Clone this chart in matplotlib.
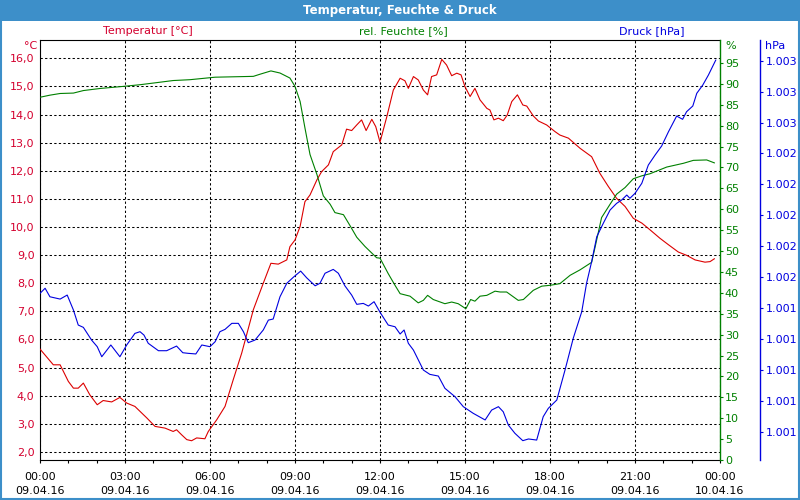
import matplotlib
matplotlib.use('Agg')
import matplotlib.pyplot as plt
import matplotlib.dates as mdates
from matplotlib.patches import Rectangle
from matplotlib.ticker import FixedLocator, FuncFormatter
import numpy as np
import pandas as pd

# --- data ---
start = pd.Timestamp('2016-04-09 00:00')

temp_h = [0.00, 0.47, 0.71, 1.00, 1.18, 1.35, 1.53, 1.76, 2.02, 2.23, 2.53, 2.82, 3.06, 3.35,
          3.77, 4.06, 4.41, 4.70, 4.82, 5.00, 5.18, 5.35, 5.53, 5.82, 5.94, 6.24, 6.53, 6.82,
          7.12, 7.53, 7.88, 8.15, 8.41, 8.71, 8.82, 9.00, 9.18, 9.35, 9.53, 9.77, 9.94, 10.18,
          10.35, 10.65, 10.82, 11.00, 11.18, 11.35, 11.51, 11.71, 11.85, 12.00, 12.24, 12.47,
          12.71, 12.88, 13.00, 13.18, 13.35, 13.53, 13.68, 13.82, 14.00, 14.18, 14.35, 14.53,
          14.71, 14.86, 15.00, 15.18, 15.35, 15.53, 15.77, 15.88, 16.02, 16.18, 16.35, 16.49,
          16.65, 16.85, 17.04, 17.18, 17.41, 17.59, 17.88, 18.18, 18.35, 18.65, 19.06, 19.47,
          19.76, 20.06, 20.35, 20.65, 20.94, 21.24, 21.53, 21.88, 22.18, 22.53, 22.83, 23.12,
          23.47, 23.65, 23.80]
temp_c = [5.66, 5.10, 5.10, 4.51, 4.27, 4.27, 4.45, 4.03, 3.68, 3.83, 3.78, 3.94, 3.74, 3.62,
          3.21, 2.91, 2.85, 2.73, 2.79, 2.61, 2.44, 2.40, 2.50, 2.47, 2.73, 3.15, 3.62, 4.57,
          5.52, 7.06, 8.00, 8.71, 8.68, 8.83, 9.30, 9.54, 10.02, 10.90, 11.14, 11.67, 11.97, 12.21,
          12.68, 12.92, 13.48, 13.43, 13.63, 13.81, 13.43, 13.83, 13.57, 13.02, 13.92, 14.87,
          15.29, 15.20, 14.93, 15.35, 15.23, 14.87, 14.70, 15.35, 15.41, 15.96, 15.76, 15.38,
          15.47, 15.41, 14.99, 14.64, 14.93, 14.52, 14.22, 14.16, 13.81, 13.87, 13.78, 13.98,
          14.46, 14.70, 14.34, 14.30, 13.95, 13.77, 13.63, 13.39, 13.27, 13.16, 12.80, 12.50,
          11.91, 11.44, 11.02, 10.73, 10.31, 10.14, 9.90, 9.60, 9.37, 9.11, 8.99, 8.83,
          8.75, 8.77, 8.87]

hum_h = [0.00, 0.35, 0.71, 1.18, 1.53, 2.12, 2.94, 3.53, 4.12, 4.70, 5.29, 6.18, 7.53, 7.76,
         8.15, 8.47, 8.82, 9.00, 9.18, 9.35, 9.53, 9.77, 10.00, 10.24, 10.41, 10.71, 10.94,
         11.18, 11.47, 11.88, 12.00, 12.29, 12.53, 12.71, 13.06, 13.35, 13.53, 13.68, 13.88,
         14.29, 14.53, 14.76, 15.03, 15.20, 15.35, 15.53, 15.77, 16.06, 16.24, 16.47, 16.88,
         17.06, 17.41, 17.71, 18.00, 18.35, 18.71, 19.06, 19.47, 19.59, 19.82, 20.12, 20.35,
         20.65, 20.94, 21.24, 21.53, 22.12, 22.71, 23.06, 23.53, 23.80]
hum_pct = [86.8, 87.3, 87.7, 87.8, 88.4, 88.9, 89.4, 89.8, 90.3, 90.8, 91.0, 91.6, 91.8, 92.3,
           93.1, 92.6, 91.4, 89.4, 85.8, 79.5, 73.1, 68.4, 63.2, 61.2, 59.2, 58.7, 56.1,
           53.3, 51.1, 48.4, 48.3, 44.6, 41.8, 39.8, 39.2, 37.6, 38.2, 39.4, 38.4,
           37.4, 37.8, 37.4, 36.2, 38.4, 38.0, 39.2, 39.4, 40.4, 40.2, 40.2, 38.2,
           38.4, 40.6, 41.6, 41.8, 42.2, 44.2, 45.5, 47.3, 50.9, 58.0, 61.2, 63.6,
           65.2, 67.3, 68.0, 68.5, 70.1, 71.0, 71.7, 71.8, 71.1]

pres_h = [0.00, 0.18, 0.35, 0.71, 0.96, 1.18, 1.35, 1.53, 1.82, 2.02, 2.18, 2.50, 2.82, 3.06,
          3.35, 3.53, 3.67, 3.82, 4.18, 4.47, 4.82, 5.04, 5.23, 5.50, 5.71, 6.00, 6.18, 6.35,
          6.53, 6.77, 7.00, 7.18, 7.35, 7.59, 7.88, 8.06, 8.23, 8.47, 8.71, 8.94, 9.20, 9.41,
          9.71, 9.88, 10.06, 10.35, 10.53, 10.76, 11.00, 11.18, 11.41, 11.59, 11.79, 12.00,
          12.29, 12.53, 12.71, 12.85, 13.00, 13.18, 13.53, 13.76, 14.06, 14.29, 14.65, 14.94,
          15.29, 15.71, 15.94, 16.18, 16.35, 16.53, 16.76, 17.04, 17.24, 17.53, 17.76, 17.94,
          18.24, 18.53, 18.82, 19.12, 19.29, 19.47, 19.65, 19.88, 20.12, 20.35, 20.53, 20.71,
          20.82, 21.00, 21.24, 21.47, 21.71, 21.94, 22.18, 22.47, 22.68, 22.82, 23.04, 23.18,
          23.39, 23.59, 23.85]
pres_val = [1.001495, 1.001528, 1.001473, 1.001458, 1.001484, 1.001387, 1.001290, 1.001275,
            1.001193, 1.001150, 1.001085, 1.001161, 1.001085, 1.001161, 1.001236, 1.001247,
            1.001225, 1.001172, 1.001124, 1.001124, 1.001154, 1.001111, 1.001107, 1.001103,
            1.001161, 1.001150, 1.001182, 1.001247, 1.001262, 1.001301, 1.001301, 1.001247,
            1.001176, 1.001193, 1.001258, 1.001322, 1.001329, 1.001473, 1.001560, 1.001599,
            1.001639, 1.001596, 1.001544, 1.001560, 1.001625, 1.001650, 1.001625, 1.001544,
            1.001484, 1.001424, 1.001430, 1.001413, 1.001441, 1.001373, 1.001290, 1.001279,
            1.001232, 1.001258, 1.001172, 1.001128, 1.000999, 1.000971, 1.000960, 1.000881,
            1.000826, 1.000762, 1.000719, 1.000676, 1.000740, 1.000762, 1.000729, 1.000643,
            1.000590, 1.000542, 1.000553, 1.000546, 1.000697, 1.000751, 1.000805, 1.000999,
            1.001204, 1.001376, 1.001560, 1.001700, 1.001861, 1.001948, 1.002034, 1.002077,
            1.002099, 1.002131, 1.002110, 1.002142, 1.002207, 1.002325, 1.002390, 1.002448,
            1.002540, 1.002642, 1.002621, 1.002670, 1.002707, 1.002789, 1.002842, 1.002907,
            1.003004]

temp_ticks = [2, 3, 4, 5, 6, 7, 8, 9, 10, 11, 12, 13, 14, 15, 16]
hum_ticks = [0, 5, 10, 15, 20, 25, 30, 35, 40, 45, 50, 55, 60, 65, 70, 75, 80, 85, 90, 95]
pres_ticks = [1.0006, 1.0008, 1.0010, 1.0012, 1.0014, 1.0016, 1.0018, 1.0020,
              1.0022, 1.0024, 1.0026, 1.0028, 1.0030]

RED_TXT = '#d4002e'
RED = '#dc0000'
GREEN = '#008000'
BLUE = '#0000e0'
BAR = '#3d8fc9'

plt.rcParams['font.family'] = 'DejaVu Sans'
plt.rcParams['font.size'] = 8


def to_time(hours):
    return start + pd.to_timedelta(np.array(hours), unit='h')


fig = plt.figure(figsize=(8, 5), dpi=100)
fig.patch.set_facecolor('white')

# title bar + frame
fig.patches.append(Rectangle((0, 0.958), 1, 0.042, transform=fig.transFigure,
                             facecolor=BAR, edgecolor='none', zorder=0))
fig.patches.append(Rectangle((0.001, 0.002), 0.998, 0.996, transform=fig.transFigure,
                             fill=False, edgecolor=BAR, lw=1.5, zorder=0))
fig.text(0.5, 0.979, 'Temperatur, Feuchte & Druck', color='white', weight='bold',
         ha='center', va='center', fontsize=8.5)

ax = fig.add_axes([0.05, 0.08, 0.85, 0.84])
ax_h = ax.twinx()
ax_p = ax.twinx()

dash = (0, (2.2, 2.2))

# temperature (left)
ax.plot(to_time(temp_h), temp_c, color=RED, lw=0.8, zorder=3)
ax.set_ylim(1.715, 16.65)
ax.yaxis.set_major_locator(FixedLocator(temp_ticks))
ax.yaxis.set_major_formatter(FuncFormatter(lambda v, p: f'{v:.1f}'.replace('.', ',')))
ax.tick_params(axis='y', length=0, pad=4, labelcolor=RED_TXT, labelsize=8)
ax.set_xlim(start, start + pd.Timedelta(hours=24))
ax.xaxis.set_major_locator(mdates.HourLocator(byhour=range(0, 24, 3)))
ax.xaxis.set_minor_locator(mdates.HourLocator())
ax.xaxis.set_major_formatter(mdates.DateFormatter('%H:%M\n%d.%m.%y'))
ax.tick_params(axis='x', which='both', direction='out', length=2.5, width=0.8, pad=6, labelsize=8)
ax.grid(True, which='major', color='black', ls=dash, lw=0.75)
for s in ['left', 'bottom', 'top']:
    ax.spines[s].set_color('black')
    ax.spines[s].set_linewidth(0.8)
ax.spines['right'].set_visible(False)

# humidity (first right axis)
ax_h.plot(to_time(hum_h), hum_pct, color=GREEN, lw=0.8, zorder=3)
ax_h.set_ylim(0, 100.5)
ax_h.yaxis.set_major_locator(FixedLocator(hum_ticks))
ax_h.tick_params(axis='y', colors=GREEN, length=2, width=0.8, pad=1.5, labelsize=8)
for s in ['left', 'bottom', 'top']:
    ax_h.spines[s].set_visible(False)
ax_h.spines['right'].set_color(GREEN)
ax_h.spines['right'].set_linewidth(1.0)

# pressure (second right axis)
ax_p.plot(to_time(pres_h), pres_val, color=BLUE, lw=0.8, zorder=3)
ax_p.spines['right'].set_position(('axes', 1.0588))
ax_p.set_ylim(1.000417, 1.003134)
ax_p.yaxis.set_major_locator(FixedLocator(pres_ticks))
ax_p.yaxis.set_major_formatter(FuncFormatter(lambda v, p: f'{v:.3f}'))
ax_p.tick_params(axis='y', colors=BLUE, length=2, width=0.8, pad=2, labelsize=8)
for s in ['left', 'bottom', 'top']:
    ax_p.spines[s].set_visible(False)
ax_p.spines['right'].set_color(BLUE)
ax_p.spines['right'].set_linewidth(1.0)

# series names above the plot and unit labels
fig.text(148 / 800, 1 - 31 / 500, 'Temperatur [°C]', color=RED_TXT, ha='center', va='center')
fig.text(403 / 800, 1 - 31 / 500, 'rel. Feuchte [%]', color=GREEN, ha='center', va='center')
fig.text(652 / 800, 1 - 31 / 500, 'Druck [hPa]', color=BLUE, ha='center', va='center')
fig.text(37 / 800, 1 - 46 / 500, '°C', color=RED_TXT, ha='right', va='center')
fig.text(725 / 800, 1 - 46 / 500, '%', color=GREEN, ha='left', va='center')
fig.text(765 / 800, 1 - 46 / 500, 'hPa', color=BLUE, ha='left', va='center')

plt.setp(ax.get_xticklabels(), linespacing=1.5)

fig.savefig('out.png', dpi=100)
